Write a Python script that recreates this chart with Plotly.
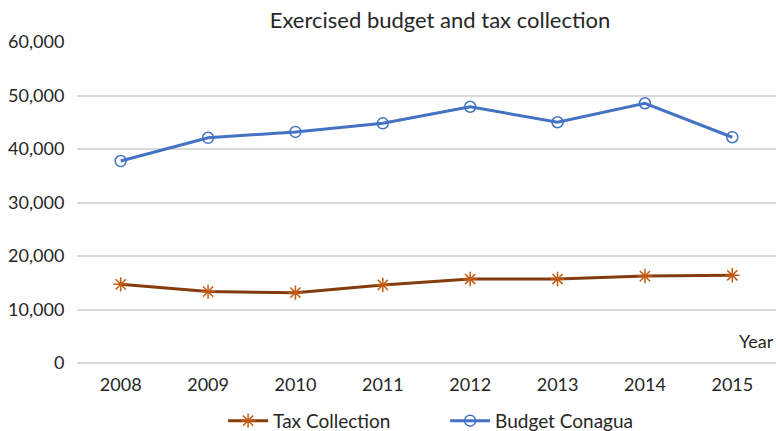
import plotly.graph_objects as go

years = ["2008", "2009", "2010", "2011", "2012", "2013", "2014", "2015"]
tax_collection = [14700, 13350, 13150, 14600, 15700, 15700, 16250, 16400]
budget_conagua = [37750, 42100, 43200, 44800, 47900, 45000, 48550, 42200]
y_ticks = [0, 10000, 20000, 30000, 40000, 50000, 60000]

font_family = "Lato, Open Sans, sans-serif"
label_color = "#262626"

fig = go.Figure()
fig.add_trace(go.Scatter(
    x=years, y=tax_collection, name="Tax Collection", mode="lines+markers",
    line=dict(color="#843C0C", width=3),
    marker=dict(symbol="asterisk-open", size=12, color="#C55A11",
                line=dict(color="#C55A11", width=1.5)),
))
fig.add_trace(go.Scatter(
    x=years, y=budget_conagua, name="Budget Conagua", mode="lines+markers",
    line=dict(color="#4472C4", width=3),
    marker=dict(symbol="circle-open", size=11, color="#4472C4",
                line=dict(color="#4472C4", width=1.5)),
))

fig.update_layout(
    width=776, height=431,
    margin=dict(l=77, r=0, t=42, b=68, autoexpand=False),
    paper_bgcolor="white", plot_bgcolor="white",
    font=dict(family=font_family, size=18, color=label_color),
    title=dict(text="Exercised budget and tax collection", x=0.567, xanchor="center",
               y=0.953, yanchor="middle",
               font=dict(family=font_family, size=22, color=label_color)),
    legend=dict(orientation="h", x=0.209, xanchor="left", y=-0.18, yanchor="middle",
                font=dict(family=font_family, size=19, color=label_color),
                itemwidth=40, entrywidth=167, entrywidthmode="pixels",
                traceorder="normal"),
    xaxis=dict(type="category", range=[-0.5, 7.5], showgrid=False, showline=False,
               ticks="outside", ticklen=5, tickcolor="white",
               tickfont=dict(size=18, color=label_color)),
    yaxis=dict(range=[0, 60000], tickvals=y_ticks, tickformat=",",
               showgrid=True, gridcolor="#D9D9D9", gridwidth=1.5,
               zeroline=True, zerolinecolor="#D9D9D9", zerolinewidth=1.5,
               showline=False, ticks="outside", ticklen=8, tickcolor="white",
               tickfont=dict(size=18, color=label_color)),
    annotations=[dict(text="Year", x=1, xref="paper", xanchor="right", y=0.07,
                      yref="paper", yanchor="middle", showarrow=False,
                      font=dict(family=font_family, size=18, color=label_color))],
)

fig.write_html("out.html")
